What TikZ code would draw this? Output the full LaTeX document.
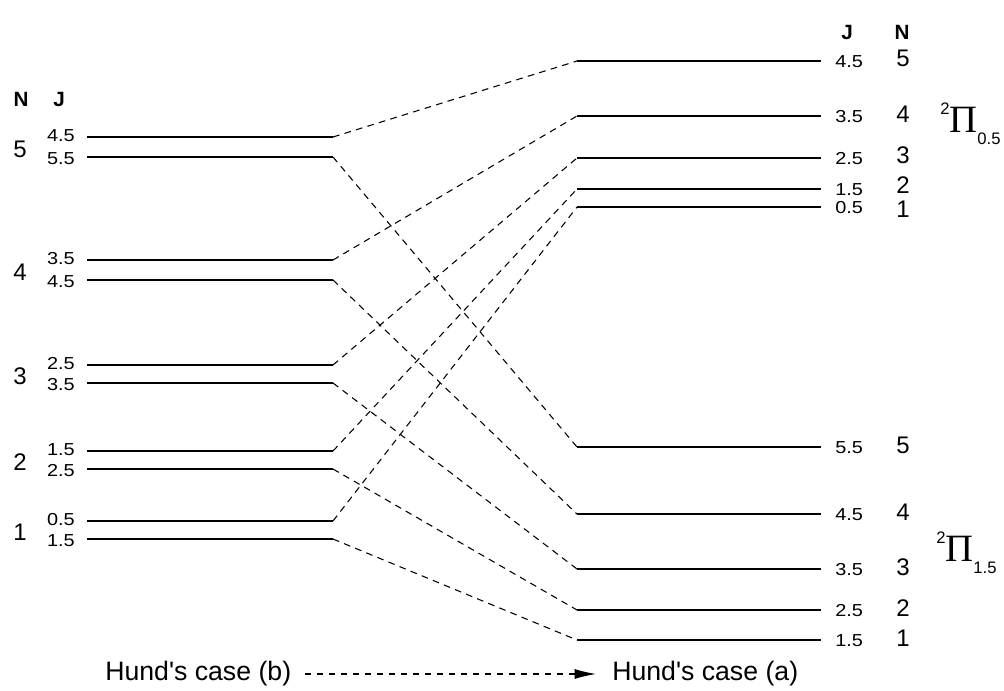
\documentclass[tikz,border=0pt]{standalone}
\usepackage{fontspec}
\setmainfont{Liberation Sans}
\newfontfamily\jvalfont{Liberation Sans}[FakeStretch=1.15]
\newfontfamily\greekserif{Liberation Serif}
\usetikzlibrary{arrows.meta}

\begin{document}
\begin{tikzpicture}[x=0.75pt,y=-0.75pt,
   lvline/.style={line width=1.5pt},
   corr/.style={line width=0.8pt,dash pattern=on 5pt off 4pt},
   jval/.style={font=\jvalfont\fontsize{13}{13}\selectfont,inner sep=0pt},
   nval/.style={font=\fontsize{18}{18}\selectfont,inner sep=0pt},
   head/.style={font=\bfseries\fontsize{15.5}{15.5}\selectfont,inner sep=0pt},
   term/.style={anchor=base west,inner sep=0pt},
   caselab/.style={font=\fontsize{20}{20}\selectfont,inner sep=0pt}]
\useasboundingbox (0,0) rectangle (1004,690);

% column heads
\node[head] (hbN) at (21,99) {N};
\node[head] (hbJ) at (59,99) {J};
\node[head] (haJ) at (847,32) {J};
\node[head] (haN) at (902,32) {N};

% case (b): J = N-1/2 above, J = N+1/2 below
\foreach \n/\ya/\yb/\ja/\jb in {5/137/157/4.5/5.5,4/260/280/3.5/4.5,3/365/383/2.5/3.5,
                                2/451/469/1.5/2.5,1/521/539/0.5/1.5}{
  \draw[lvline] (87,\ya) coordinate (bfs\n) -- (333,\ya) coordinate (bfe\n);
  \draw[lvline] (87,\yb) coordinate (bgs\n) -- (333,\yb) coordinate (bge\n);
  \node[jval,anchor=east] (bfj\n) at (75,\ya-1) {\ja};
  \node[jval,anchor=east] (bgj\n) at (75,\yb+2) {\jb};
  \node[nval] (bn\n) at (20,{(\ya+\yb)/2+2}) {\n};
}

% case (a): upper stack
\foreach \n/\y/\yn/\j in {5/61/58/4.5,4/116/114/3.5,3/158/155/2.5,2/189/185/1.5,1/207/209/0.5}{
  \draw[lvline] (577,\y) coordinate (afs\n) -- (821,\y) coordinate (afe\n);
  \node[jval,anchor=west] (afj\n) at (835,\y+1) {\j};
  \node[nval] (afn\n) at (903,\yn) {\n};
}
% case (a): lower stack
\foreach \n/\y/\j in {5/447/5.5,4/514/4.5,3/569/3.5,2/610/2.5,1/640/1.5}{
  \draw[lvline] (577,\y) coordinate (ags\n) -- (821,\y) coordinate (age\n);
  \node[jval,anchor=west] (agj\n) at (835,\y+1) {\j};
  \node[nval] (agn\n) at (903,\y-2) {\n};
}

% correlation
\foreach \n in {1,...,5}{
  \draw[corr] (bfe\n) -- (afs\n);
  \draw[corr] (bge\n) -- (ags\n);
}

% term symbols
\node[term] (piup) at (940,132) {\fontsize{12.5}{12.5}\selectfont\raisebox{13pt}{2}%
  {\greekserif\fontsize{29}{29}\selectfont Π}\raisebox{-9.5pt}{0.5}};
\node[term] (pilow) at (936,561) {\fontsize{12.5}{12.5}\selectfont\raisebox{13pt}{2}%
  {\greekserif\fontsize{29}{29}\selectfont Π}\raisebox{-9.5pt}{1.5}};

% bottom
\node[caselab,anchor=west] (caseb) at (105,674) {Hund\textquotesingle s case (b)};
\node[caselab,anchor=west] (casea) at (612,674) {Hund\textquotesingle s case (a)};
\draw[corr,-{Latex[length=16pt,width=7.5pt]},shorten <=10pt,shorten >=12pt] (caseb) -- (casea);
\end{tikzpicture}
\end{document}
